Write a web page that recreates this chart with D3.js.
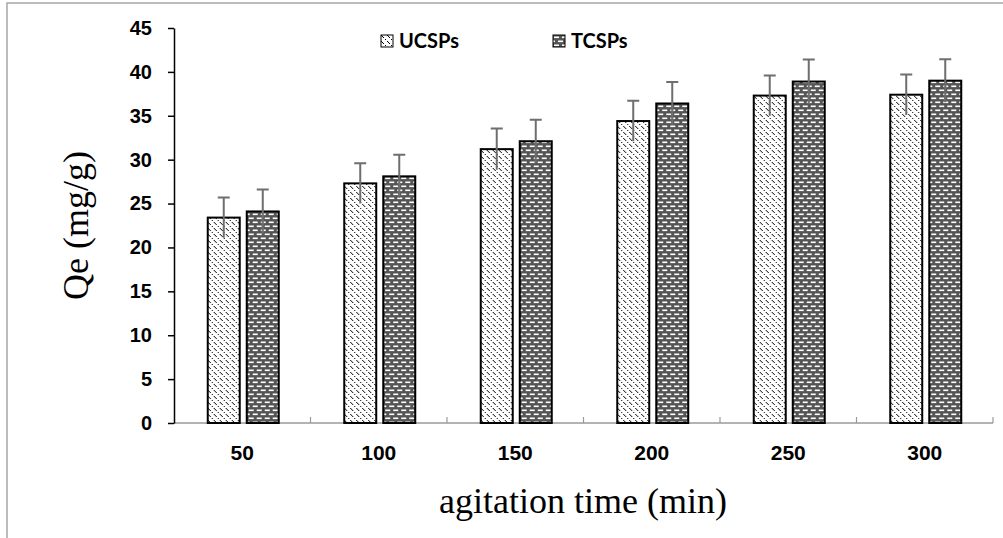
<!DOCTYPE html>
<html>
<head>
<meta charset="utf-8">
<script src="https://cdn.jsdelivr.net/npm/d3@7"></script>
<style>
  body { margin: 0; background: #fff; }
  svg { display: block; }
</style>
</head>
<body>
<script>
// data
var times = ["50", "100", "150", "200", "250", "300"];
var seriesNames = ["UCSPs", "TCSPs"];
var ucsps = [23.4, 27.3, 31.2, 34.4, 37.3, 37.4];
var tcsps = [24.1, 28.1, 32.1, 36.4, 38.9, 39.0];
var ucspsErr = [2.3, 2.3, 2.35, 2.3, 2.3, 2.3];
var tcspsErr = [2.5, 2.45, 2.45, 2.45, 2.5, 2.45];
var yTicks = [0, 5, 10, 15, 20, 25, 30, 35, 40, 45];

var rows = times.map(function(t, i) {
    return { time: t, UCSPs: ucsps[i], TCSPs: tcsps[i], eUCSPs: ucspsErr[i], eTCSPs: tcspsErr[i] };
});

var W = 1003, H = 538;
var plotL = 174, plotR = 993, plotT = 28, plotB = 423;

var svg = d3.select("body")
    .append("svg")
    .attr("width", W)
    .attr("height", H);

// pattern fills
var defs = svg.append("defs");

var p1 = defs.append("pattern")
    .attr("id", "pat-u")
    .attr("patternUnits", "userSpaceOnUse")
    .attr("width", 6)
    .attr("height", 6);
p1.append("rect").attr("width", 6).attr("height", 6).attr("fill", "#fff");
p1.append("path")
    .attr("d", "M-1,-1 L7,7 M-1,5 L1,7 M5,-1 L7,1")
    .attr("stroke", "#000")
    .attr("stroke-width", 1.4)
    .attr("stroke-dasharray", "2.2,1")
    .attr("shape-rendering", "crispEdges");

var p2 = defs.append("pattern")
    .attr("id", "pat-t")
    .attr("patternUnits", "userSpaceOnUse")
    .attr("width", 8)
    .attr("height", 8);
p2.append("rect").attr("width", 8).attr("height", 8).attr("fill", "#555");
p2.append("rect").attr("x", 1).attr("y", 1.5).attr("width", 5).attr("height", 1.6).attr("fill", "#fff");
p2.append("rect").attr("x", 5).attr("y", 5.5).attr("width", 5).attr("height", 1.6).attr("fill", "#fff");
p2.append("rect").attr("x", -3).attr("y", 5.5).attr("width", 5).attr("height", 1.6).attr("fill", "#fff");

var fills = { UCSPs: "url(#pat-u)", TCSPs: "url(#pat-t)" };

// outer frame (only top and left edges visible)
svg.append("path")
    .attr("d", "M7," + H + " L7,3 L" + W + ",3")
    .attr("fill", "none")
    .attr("stroke", "#a6a6a6")
    .attr("stroke-width", 1.5);

var x0 = d3.scaleBand()
    .domain(times)
    .range([plotL, plotR])
    .padding(0);

var groupW = 71;
var x1 = d3.scaleBand()
    .domain(seriesNames)
    .range([0, groupW])
    .paddingInner(0.18);

var y = d3.scaleLinear()
    .domain([0, 45])
    .range([plotB, plotT]);

// x axis: grey line, ticks between categories pointing up
svg.append("line")
    .attr("x1", plotL).attr("x2", plotR)
    .attr("y1", y(0)).attr("y2", y(0))
    .attr("stroke", "#9a9a9a")
    .attr("stroke-width", 1.5);

svg.selectAll(".xtick")
    .data(times.slice(1).concat(["end"]))
    .enter()
    .append("line")
    .attr("class", "xtick")
    .attr("x1", d => d === "end" ? plotR : x0(d))
    .attr("x2", d => d === "end" ? plotR : x0(d))
    .attr("y1", y(0))
    .attr("y2", y(0) - 6)
    .attr("stroke", "#9a9a9a")
    .attr("stroke-width", 1.2);

svg.selectAll(".xlab")
    .data(times)
    .enter()
    .append("text")
    .attr("class", "xlab")
    .attr("x", d => x0(d) + x0.bandwidth() / 2)
    .attr("y", 460)
    .attr("text-anchor", "middle")
    .attr("font-family", "Liberation Sans, Arial, sans-serif")
    .attr("font-weight", "bold")
    .attr("font-size", 21)
    .text(d => d);

// bars
var groups = svg.selectAll(".grp")
    .data(rows)
    .enter()
    .append("g")
    .attr("class", "grp")
    .attr("transform", d => "translate(" + (x0(d.time) + (x0.bandwidth() - groupW) / 2 + 1) + ",0)");

groups.selectAll("rect")
    .data(d => seriesNames.map(s => ({ key: s, v: d[s], e: d["e" + s] })))
    .enter()
    .append("rect")
    .attr("x", d => x1(d.key))
    .attr("y", d => y(d.v))
    .attr("width", x1.bandwidth())
    .attr("height", d => y(0) - y(d.v))
    .attr("fill", d => fills[d.key])
    .attr("stroke", "#000")
    .attr("stroke-width", 2);

// error bars
groups.selectAll(".err")
    .data(d => seriesNames.map(s => ({ key: s, v: d[s], e: d["e" + s] })))
    .enter()
    .append("path")
    .attr("class", "err")
    .attr("d", d => {
        var cx = x1(d.key) + x1.bandwidth() / 2;
        var hi = y(d.v + d.e), lo = y(d.v - d.e);
        return "M" + cx + "," + lo + " L" + cx + "," + hi +
            " M" + (cx - 6) + "," + hi + " L" + (cx + 6) + "," + hi;
    })
    .attr("fill", "none")
    .attr("stroke", "#6e6e6e")
    .attr("stroke-width", 2);

// y axis
var yAxis = svg.append("g")
    .attr("transform", "translate(" + plotL + ",0)")
    .call(d3.axisLeft(y).tickValues(yTicks).tickSize(6).tickPadding(16).tickSizeOuter(0));

yAxis.select(".domain").attr("stroke", "#000").attr("stroke-width", 1.5);
yAxis.selectAll(".tick line").attr("stroke", "#000").attr("stroke-width", 1.5);
yAxis.selectAll(".tick text")
    .attr("font-family", "Liberation Sans, Arial, sans-serif")
    .attr("font-weight", "bold")
    .attr("font-size", 20)
    .attr("fill", "#000");

// axis titles
svg.append("text")
    .attr("transform", "translate(88," + ((plotT + plotB) / 2) + ") rotate(-90)")
    .attr("text-anchor", "middle")
    .attr("font-family", "Liberation Serif, Times New Roman, serif")
    .attr("font-size", 36)
    .text("Qe (mg/g)");

svg.append("text")
    .attr("x", 583)
    .attr("y", 513)
    .attr("text-anchor", "middle")
    .attr("font-family", "Liberation Serif, Times New Roman, serif")
    .attr("font-size", 36)
    .text("agitation time (min)");

// legend
var legendX = [381, 553];
var leg = svg.selectAll(".leg")
    .data(seriesNames)
    .enter()
    .append("g")
    .attr("class", "leg")
    .attr("transform", (d, i) => "translate(" + legendX[i] + ",35)");

leg.append("rect")
    .attr("width", 12)
    .attr("height", 12)
    .attr("fill", d => fills[d])
    .attr("stroke", "#000")
    .attr("stroke-width", 1);

leg.append("text")
    .attr("x", 18)
    .attr("y", 13)
    .attr("font-family", "Lato, Open Sans, sans-serif")
    .attr("font-weight", "bold")
    .attr("font-size", 20)
    .text(d => d);
</script>
</body>
</html>
